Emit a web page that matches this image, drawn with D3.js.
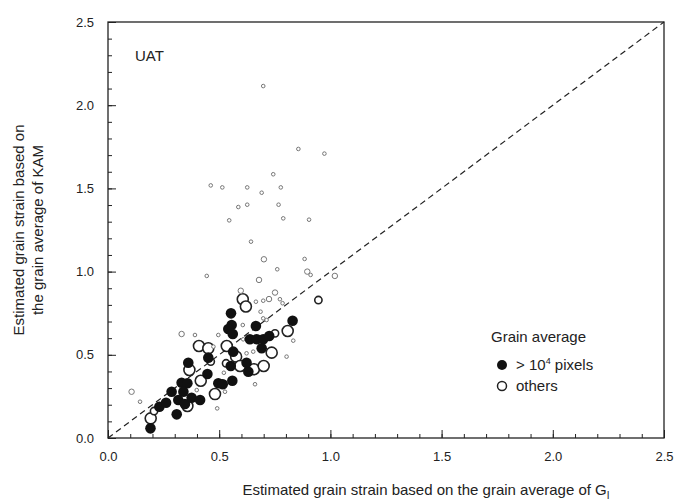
<!DOCTYPE html>
<html><head><meta charset="utf-8">
<script src="https://cdn.jsdelivr.net/npm/d3@7"></script>
<style>body{margin:0;background:#fff;font-family:"Liberation Sans",Arial,sans-serif;}</style>
</head><body><svg id="drawing_region"></svg>
<script>
// large grains (> 10^4 pixels), filled
const bigX = [.191,.309,.231,.261,.286,.316,.346,.376,.414,.331,.357,.339,.361,.447,.451,.496,.516,.559,.552,.563,.553,.556,.541,.561,.631,.623,.665,.638,.669,.698,.725,.691,.830];
const bigY = [.058,.142,.188,.212,.278,.228,.204,.242,.228,.332,.329,.278,.452,.385,.483,.329,.323,.344,.433,.519,.749,.679,.655,.625,.398,.452,.673,.593,.593,.593,.613,.539,.705];
// others, open circles; size = grain size class (1 small .. 3 large)
const otherX = [.192,.357,.366,.417,.481,.409,.451,.534,.576,.594,.656,.700,.736,.808,.606,.620,.946,.207,.462,.531,.751,
  .106,.144,.331,.391,.444,.701,.761,.884,.896,.911,.679,.597,.665,.698,.724,.751,.773,.785,.686,.698,.713,.606,.496,.608,.833,.803,.661,.491,.526,.521,.474,.399,.653,.623,
  .698,.856,.973,.743,.462,.514,.626,.777,.691,.586,.626,.767,.545,.788,.904,.643,1.02];
const otherY = [.118,.192,.409,.344,.264,.553,.539,.553,.489,.433,.413,.433,.513,.643,.834,.790,.829,.162,.459,.449,.629,
  .278,.218,.625,.619,.974,1.074,1.014,1.076,1.000,.980,.950,.885,.819,.825,.835,.874,.834,.810,.759,.719,.709,.679,.619,.593,.585,.489,.323,.178,.278,.392,.549,.288,.519,.509,
  2.115,1.737,1.709,1.585,1.518,1.506,1.506,1.506,1.474,1.388,1.402,1.402,1.308,1.320,1.312,1.180,.974];
const otherSize = [3,3,3,3,3,3,3,3,3,3,3,3,3,3,3,3,2,2,2,2,2,
  1.5,1,1.5,1,1,1.5,1,1,1.5,1,1.5,1.5,1,1,1.5,1.5,1,1,1,1,1,1,1,1,1,1,1,1,1,1,1,1,1,1,
  1,1,1,1,1,1,1,1,1,1,1,1,1,1,1,1,1.5];
const xTicks = [0, 0.5, 1.0, 1.5, 2.0, 2.5];
const yTicks = [0, 0.5, 1.0, 1.5, 2.0, 2.5];

const width = 678, height = 503;
const margin = {top:22, right:14, bottom:65, left:108};
const iw = width - margin.left - margin.right, ih = height - margin.top - margin.bottom;

const svg = d3.select('#drawing_region').attr('width', width).attr('height', height);
const chart = svg.append('g').attr('transform', `translate(${margin.left},${margin.top})`);
const xscale = d3.scaleLinear().domain([0, 2.5]).range([0, iw]);
const yscale = d3.scaleLinear().domain([0, 2.5]).range([ih, 0]);
const rscale = d3.scaleLinear().domain([1, 3]).range([1.8, 5.5]);

const minor = d3.range(0, 2.51, 0.1);
chart.append('g').attr('transform', `translate(0,${ih})`)
  .call(d3.axisBottom(xscale).tickValues(minor).tickSize(-4).tickFormat(''));
chart.append('g').call(d3.axisLeft(yscale).tickValues(minor).tickSize(-4).tickFormat(''));
const xa = chart.append('g').attr('transform', `translate(0,${ih})`)
  .call(d3.axisBottom(xscale).tickValues(xTicks).tickSize(-8).tickPadding(14).tickFormat(d3.format('.1f')));
const ya = chart.append('g')
  .call(d3.axisLeft(yscale).tickValues(yTicks).tickSize(-8).tickPadding(14).tickFormat(d3.format('.1f')));
chart.selectAll('.domain').remove();
chart.selectAll('.tick text').attr('font-size', 13).attr('font-family', 'Liberation Sans').attr('fill', '#222');
chart.selectAll('.tick line').attr('stroke', '#222');
chart.append('rect').attr('width', iw).attr('height', ih).attr('fill', 'none').attr('stroke', '#222').attr('stroke-width', 1.3);

chart.append('line').attr('x1', xscale(0)).attr('y1', yscale(0)).attr('x2', xscale(2.5)).attr('y2', yscale(2.5))
  .attr('stroke', '#222').attr('stroke-width', 1.2).attr('stroke-dasharray', '6,4');

const others = otherX.map((x, i) => ({x, y: otherY[i], s: otherSize[i]}));
chart.selectAll('circle.o').data(others).enter().append('circle').attr('class', 'o')
  .attr('cx', d => xscale(d.x)).attr('cy', d => yscale(d.y)).attr('r', d => rscale(d.s))
  .attr('fill', 'white').attr('stroke', d => d.s > 1.5 ? '#222' : '#777').attr('stroke-width', d => d.s > 1.5 ? 1.6 : 1);
const bigs = bigX.map((x, i) => ({x, y: bigY[i]}));
chart.selectAll('circle.b').data(bigs).enter().append('circle').attr('class', 'b')
  .attr('cx', d => xscale(d.x)).attr('cy', d => yscale(d.y)).attr('r', 5.3).attr('fill', '#111');

chart.append('text').attr('x', 27).attr('y', 39).attr('font-size', 15).attr('fill', '#222').text('UAT');

const lg = chart.append('g').attr('transform', `translate(383,320)`);
lg.append('text').attr('x', 0).attr('y', 0).attr('font-size', 15).attr('fill', '#222').text('Grain average');
lg.append('circle').attr('cx', 11).attr('cy', 23).attr('r', 5).attr('fill', '#111');
const t1 = lg.append('text').attr('x', 25).attr('y', 28).attr('font-size', 15).attr('fill', '#222');
t1.append('tspan').text('> 10');
t1.append('tspan').attr('dy', -6).attr('font-size', 9).text('4');
t1.append('tspan').attr('dy', 6).text(' pixels');
lg.append('circle').attr('cx', 11).attr('cy', 44).attr('r', 4.5).attr('fill', 'white').attr('stroke', '#222').attr('stroke-width', 1.5);
lg.append('text').attr('x', 25).attr('y', 49).attr('font-size', 15).attr('fill', '#222').text('others');

const xl = svg.append('text').attr('x', margin.left + iw / 2 + 40).attr('y', 495).attr('text-anchor', 'middle')
  .attr('font-size', 15).attr('fill', '#222');
xl.append('tspan').text('Estimated grain strain based on the grain average of G');
xl.append('tspan').attr('dy', 4).attr('font-size', 10).text('I');
const yl = svg.append('text').attr('transform', `translate(0,${margin.top + ih / 2}) rotate(-90)`)
  .attr('text-anchor', 'middle').attr('font-size', 15).attr('fill', '#222');
yl.append('tspan').attr('x', 0).attr('y', 24).text('Estimated grain strain based on');
yl.append('tspan').attr('x', 0).attr('y', 43).text('the grain average of KAM');
</script></body></html>
